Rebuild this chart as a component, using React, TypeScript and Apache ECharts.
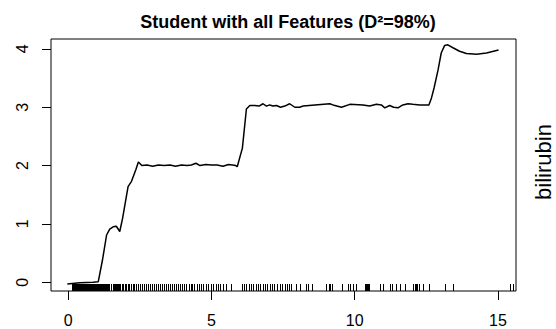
import React, { useEffect, useRef } from "react";
import * as echarts from "echarts";

// Partial effect curve of bilirubin
const curveX = [
  -0.03, 0.41, 0.87, 1.05, 1.2, 1.34, 1.45, 1.57, 1.68, 1.8, 1.9, 2.09, 2.21, 2.36, 2.45, 2.57,
  2.75, 2.95, 3.15, 3.35, 3.55, 3.75, 3.95, 4.15, 4.3, 4.46, 4.6, 4.8, 5.0, 5.2, 5.4, 5.6, 5.85, 5.9,
  6.08, 6.22, 6.34, 6.52, 6.66, 6.8, 6.92, 7.03, 7.15, 7.27, 7.41, 7.56, 7.73, 7.91, 8.08, 8.2,
  9.13, 9.24, 9.54, 9.83, 10.29, 10.52, 10.76, 10.93, 11.05, 11.22, 11.36, 11.51, 11.68, 11.86,
  12.03, 12.27, 12.59, 12.68, 12.77, 12.91, 13.02, 13.14, 13.25, 13.43, 13.66, 13.9, 14.25, 14.6, 15.02,
];
const curveY = [
  -0.03, -0.01, 0.0, 0.01, 0.39, 0.81, 0.91, 0.95, 0.96, 0.87, 1.1, 1.64, 1.73, 1.93, 2.06, 2.0,
  2.01, 1.99, 2.01, 2.0, 2.01, 1.99, 2.01, 2.0, 2.01, 2.04, 2.0, 2.02, 2.01, 2.01, 1.99, 2.02, 2.0, 1.98,
  2.3, 2.97, 3.03, 3.03, 3.02, 3.06, 3.02, 3.04, 3.02, 3.03, 3.0, 3.02, 3.06, 3.0, 3.0, 3.02,
  3.06, 3.04, 3.0, 3.05, 3.04, 3.02, 3.05, 3.04, 2.99, 3.03, 3.0, 2.99, 3.04, 3.06,
  3.05, 3.04, 3.04, 3.16, 3.33, 3.64, 3.93, 4.06, 4.07, 4.02, 3.96, 3.92, 3.91, 3.93, 3.98,
];

// Observed bilirubin values, shown as a rug along the bottom edge
const rugX = [
  0.12, 0.15, 0.18, 0.21, 0.24, 0.27, 0.3, 0.33, 0.36, 0.39, 0.42, 0.45, 0.48, 0.51, 0.54, 0.57,
  0.6, 0.63, 0.66, 0.69, 0.72, 0.75, 0.78, 0.81, 0.84, 0.87, 0.9, 0.93, 0.96, 0.99, 1.02, 1.05,
  1.08, 1.11, 1.14, 1.17, 1.2, 1.22, 1.26, 1.29, 1.33, 1.37, 1.4, 1.44, 1.48, 1.51, 1.55, 1.6,
  1.64, 1.68, 1.71, 1.73, 1.78, 1.82, 1.87, 1.92, 1.97, 2.02, 2.08, 2.13, 2.2, 2.26, 2.31, 2.38,
  2.44, 2.5, 2.57, 2.63, 2.72, 2.78, 2.86, 2.93, 3.0, 3.05, 3.12, 3.2, 3.26, 3.35, 3.41, 3.48,
  3.55, 3.62, 3.7, 3.76, 3.83, 3.9, 3.97, 4.05, 4.12, 4.2, 4.27, 4.33, 4.4, 4.48, 4.55, 4.62,
  4.7, 4.8, 4.88, 4.97, 5.05, 5.15, 5.22, 5.3, 5.42, 5.52, 5.7, 6.05, 6.15, 6.22, 6.3, 6.38,
  6.45, 6.55, 6.62, 6.7, 6.8, 6.87, 6.95, 7.05, 7.12, 7.2, 7.3, 7.38, 7.45, 7.55, 7.62, 7.7,
  7.79, 7.94, 8.1, 8.29, 8.37, 8.52, 8.99, 9.1, 9.15, 9.22, 9.54, 9.77, 9.83, 9.94, 10.06,
  10.35, 10.38, 10.43, 10.46, 10.5, 10.9, 10.99, 11.22, 11.31, 11.43, 11.57, 11.74, 12.03,
  12.09, 12.15, 12.19, 12.24, 12.38, 12.59, 13.14, 13.43, 15.41, 15.52,
];

const xTicks = [0, 5, 10, 15];
const yTicks = [0, 1, 2, 3, 4];

const FONT = "Liberation Sans, Arial, Helvetica, sans-serif";

export default function App() {
  const ref = useRef<HTMLDivElement>(null);

  useEffect(() => {
    if (!ref.current) return;
    const chart = echarts.init(ref.current, undefined, { renderer: "svg" });
    const X_MIN = -0.6;
    const X_MAX = 15.63;
    const Y_MIN = -0.15;
    const Y_MAX = 4.17;

    chart.setOption({
      animation: false,
      backgroundColor: "#ffffff",
      title: {
        text: "Student with all Features (D²=98%)",
        left: 283,
        top: 8,
        textAlign: "center",
        textStyle: { fontFamily: FONT, fontSize: 18, fontWeight: "bold", color: "#000" },
      },
      graphic: [
        {
          type: "text",
          x: 543,
          y: 162,
          rotation: Math.PI / 2,
          style: {
            text: "bilirubin",
            fontFamily: FONT,
            fontSize: 22,
            fill: "#000",
            textAlign: "center",
            textVerticalAlign: "middle",
          },
        },
      ],
      grid: {
        left: 51,
        top: 39,
        right: 40,
        bottom: 38,
        show: true,
        borderColor: "#000",
        borderWidth: 1,
        backgroundColor: "transparent",
      },
      xAxis: {
        type: "value",
        min: X_MIN,
        max: X_MAX,
        splitLine: { show: false },
        axisLine: { show: false, onZero: false },
        axisTick: { show: true, length: 9, inside: false, customValues: xTicks, lineStyle: { color: "#000" } },
        axisLabel: {
          customValues: xTicks,
          margin: 21,
          fontFamily: FONT,
          fontSize: 16,
          color: "#000",
        },
      },
      yAxis: {
        type: "value",
        min: Y_MIN,
        max: Y_MAX,
        splitLine: { show: false },
        axisLine: { show: false, onZero: false },
        axisTick: { show: true, length: 9, inside: false, customValues: yTicks, lineStyle: { color: "#000" } },
        axisLabel: {
          customValues: yTicks,
          rotate: 90,
          margin: 21,
          fontFamily: FONT,
          fontSize: 16,
          color: "#000",
        },
      },
      series: [
        {
          type: "line",
          data: curveX.map((x, i) => [x, curveY[i]]),
          showSymbol: false,
          symbol: "none",
          lineStyle: { color: "#000", width: 1.5 },
          z: 3,
        },
        {
          type: "custom",
          data: rugX.map((x) => [x]),
          renderItem: (params: any, api: any) => {
            const p = api.coord([api.value(0), Y_MIN]);
            // snap each rug stroke to the pixel grid so it renders crisp
            const px = Math.round(p[0]) + 0.5;
            return {
              type: "line",
              shape: { x1: px, y1: p[1], x2: px, y2: p[1] - 7 },
              style: { stroke: "#000", lineWidth: 1 },
            };
          },
          z: 2,
        },
      ],
    });

    return () => chart.dispose();
  }, []);

  return (
    <div
      ref={ref}
      style={{ position: "fixed", left: 0, top: 0, width: 556, height: 329, background: "#fff" }}
    />
  );
}
